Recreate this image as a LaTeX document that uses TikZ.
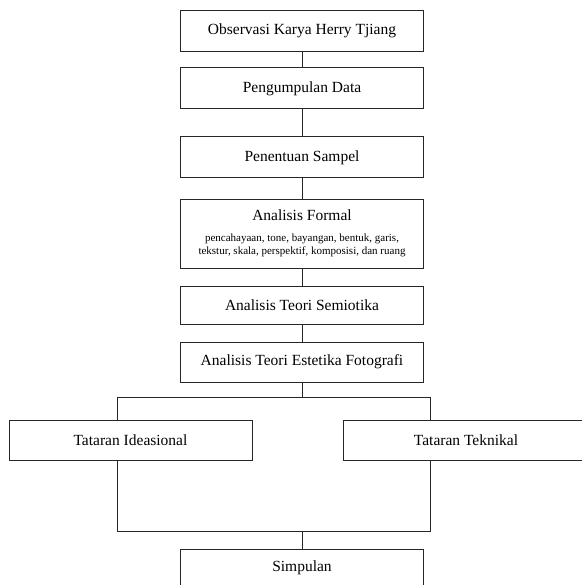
\documentclass[tikz,border=0pt]{standalone}
\usepackage{fontspec}
\setmainfont{Liberation Serif}
\usetikzlibrary{positioning}

\tikzset{
    kotak/.style={draw=black!85, line width=1pt, inner sep=0pt, minimum width=243pt, minimum height=41pt, font=\fontsize{15.5}{18}\selectfont, align=center},
    garis/.style={draw=black!85, line width=1pt}
}
\newcommand{\kecil}{\fontsize{11}{11.5}\selectfont}

\begin{document}
\begin{tikzpicture}[x=1pt, y=-1pt]

% Frame of the picture
\useasboundingbox (0,0) rectangle (581,585);

% Main column
\node[kotak] (observasi) at (302,31) {Observasi Karya Herry Tjiang};
\node[kotak] (data) at (302,88.5) {Pengumpulan Data};
\node[kotak] (sampel) at (302,157.5) {Penentuan Sampel};
\node[kotak, minimum height=69pt] (formal) at (302,233.5) {Analisis Formal\\[3pt]
    \kecil pencahayaan, tone, bayangan, bentuk, garis,\\[-5.5pt]
    \kecil tekstur, skala, perspektif, komposisi, dan ruang};
\node[kotak, minimum height=38pt] (semiotika) at (302,305) {Analisis Teori Semiotika};
\node[kotak, minimum height=40pt] (fotografi) at (302,362) {Analisis Teori Estetika Fotografi};

% Two branches
\node[kotak, minimum height=40pt] (ideasional) at (130.5,440) {Tataran Ideasional};
\node[kotak, minimum width=246pt, minimum height=40pt] (teknikal) at (466,440) {Tataran Teknikal};

% Conclusion
\node[kotak, minimum height=38pt] (simpulan) at (302,568) {Simpulan};

% Connectors of the main column
\draw[garis] (observasi) -- (data);
\draw[garis] (data) -- (sampel);
\draw[garis] (sampel) -- (formal);
\draw[garis] (formal) -- (semiotika);
\draw[garis] (semiotika) -- (fotografi);

% Split
\coordinate (cabang) at (302,397);
\coordinate (cabangkiri) at (117,397);
\coordinate (cabangkanan) at (430,397);
\draw[garis] (fotografi) -- (cabang);
\draw[garis] (cabangkiri) -- (cabangkanan);
\draw[garis] (cabangkiri) -- (cabangkiri |- ideasional.north);
\draw[garis] (cabangkanan) -- (cabangkanan |- teknikal.north);

% Join
\coordinate (gabungkiri) at (117,531.5);
\coordinate (gabungkanan) at (430,531.5);
\coordinate (gabung) at (302,531.5);
\draw[garis] (ideasional.south -| gabungkiri) -- (gabungkiri);
\draw[garis] (teknikal.south -| gabungkanan) -- (gabungkanan);
\draw[garis] (gabungkiri) -- (gabungkanan);
\draw[garis] (gabung) -- (simpulan);

\end{tikzpicture}
\end{document}
